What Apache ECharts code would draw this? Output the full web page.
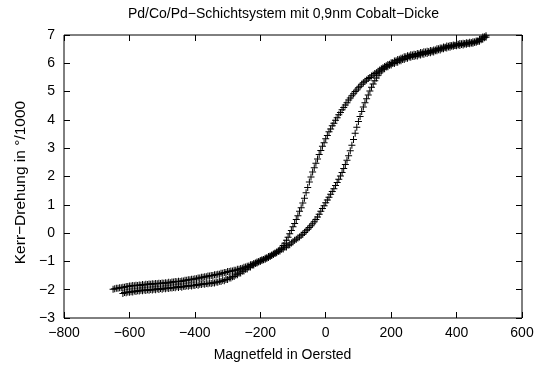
<!DOCTYPE html>
<html>
<head>
<meta charset="utf-8">
<script src="https://cdn.jsdelivr.net/npm/echarts@6/dist/echarts.min.js"></script>
<style>html,body{margin:0;padding:0;background:#fff}#c{width:540px;height:365px}</style>
</head>
<body>
<div id="c"></div>
<script>
// Descending field branch (Oe) and Kerr rotation (°/1000)
var fieldDown = [490,485,480,475,470,465,460,455,450,445,440,435,430,425,420,415,410,405,400,395,
  390,385,380,375,370,365,360,355,350,345,340,335,330,325,320,315,310,305,300,295,
  290,285,280,275,270,265,260,255,250,245,240,235,230,225,220,215,210,205,200,195,
  190,185,180,175,170,165,160,155,150,145,140,135,130,125,120,115,110,105,100,95,
  90,85,80,75,70,65,60,55,50,45,40,35,30,25,20,15,10,5,0,-5,
  -10,-15,-20,-25,-30,-35,-40,-45,-50,-55,-60,-65,-70,-75,-80,-85,-90,-95,-100,-105,
  -110,-115,-120,-125,-130,-135,-140,-145,-150,-155,-160,-165,-170,-175,-180,-185,-190,-195,-200,-205,
  -210,-215,-220,-225,-230,-235,-240,-245,-250,-255,-260,-265,-270,-275,-280,-285,-290,-295,-300,-305,
  -310,-315,-320,-325,-330,-335,-340,-345,-350,-355,-360,-365,-370,-375,-380,-385,-390,-395,-400,-405,
  -410,-415,-420,-425,-430,-435,-440,-445,-450,-455,-460,-465,-470,-475,-480,-485,-490,-495,-500,-505,
  -510,-515,-520,-525,-530,-535,-540,-545,-550,-555,-560,-565,-570,-575,-580,-585,-590,-595,-600,-605,
  -610,-615,-620,-625,-630,-635,-640,-645,-650];
var kerrDown = [6.97,6.94,6.93,6.87,6.85,6.79,6.79,6.75,6.76,6.73,6.74,6.72,6.73,6.70,6.71,6.69,6.70,6.67,6.68,6.64,
  6.65,6.62,6.63,6.60,6.61,6.57,6.58,6.54,6.54,6.51,6.51,6.47,6.47,6.44,6.45,6.42,6.43,6.40,6.41,6.37,
  6.38,6.34,6.35,6.31,6.32,6.29,6.30,6.26,6.27,6.23,6.23,6.19,6.18,6.14,6.13,6.09,6.08,6.03,6.02,5.97,
  5.96,5.91,5.89,5.84,5.81,5.76,5.72,5.67,5.64,5.59,5.55,5.50,5.46,5.41,5.37,5.31,5.26,5.19,5.14,5.06,
  5.00,4.92,4.85,4.77,4.70,4.61,4.53,4.44,4.36,4.26,4.18,4.08,3.99,3.88,3.79,3.68,3.58,3.45,3.33,3.19,
  3.07,2.92,2.78,2.62,2.47,2.31,2.16,1.98,1.81,1.61,1.43,1.23,1.06,0.90,0.77,0.61,0.48,0.34,0.22,0.09,
  -0.02,-0.15,-0.25,-0.36,-0.44,-0.53,-0.59,-0.64,-0.67,-0.72,-0.74,-0.79,-0.82,-0.86,-0.88,-0.92,-0.93,-0.96,-0.97,-1.01,
  -1.02,-1.06,-1.07,-1.11,-1.12,-1.16,-1.17,-1.20,-1.21,-1.24,-1.25,-1.28,-1.28,-1.31,-1.31,-1.34,-1.34,-1.36,-1.36,-1.39,
  -1.39,-1.42,-1.42,-1.45,-1.45,-1.47,-1.47,-1.50,-1.50,-1.52,-1.52,-1.54,-1.54,-1.56,-1.56,-1.59,-1.59,-1.61,-1.61,-1.63,
  -1.63,-1.65,-1.65,-1.67,-1.67,-1.69,-1.69,-1.71,-1.70,-1.72,-1.71,-1.73,-1.73,-1.75,-1.74,-1.76,-1.75,-1.77,-1.76,-1.78,
  -1.77,-1.79,-1.78,-1.80,-1.79,-1.81,-1.80,-1.82,-1.81,-1.83,-1.82,-1.84,-1.83,-1.85,-1.84,-1.86,-1.85,-1.87,-1.87,-1.89,
  -1.89,-1.91,-1.91,-1.93,-1.93,-1.95,-1.95,-1.97,-1.98];

// Ascending field branch
var fieldUp = [-620,-615,-610,-605,-600,-595,-590,-585,-580,-575,-570,-565,-560,-555,-550,-545,-540,-535,-530,-525,
  -520,-515,-510,-505,-500,-495,-490,-485,-480,-475,-470,-465,-460,-455,-450,-445,-440,-435,-430,-425,
  -420,-415,-410,-405,-400,-395,-390,-385,-380,-375,-370,-365,-360,-355,-350,-345,-340,-335,-330,-325,
  -320,-315,-310,-305,-300,-295,-290,-285,-280,-275,-270,-265,-260,-255,-250,-245,-240,-235,-230,-225,
  -220,-215,-210,-205,-200,-195,-190,-185,-180,-175,-170,-165,-160,-155,-150,-145,-140,-135,-130,-125,
  -120,-115,-110,-105,-100,-95,-90,-85,-80,-75,-70,-65,-60,-55,-50,-45,-40,-35,-30,-25,
  -20,-15,-10,-5,0,5,10,15,20,25,30,35,40,45,50,55,60,65,70,75,
  80,85,90,95,100,105,110,115,120,125,130,135,140,145,150,155,160,165,170,175,
  180,185,190,195,200,205,210,215,220,225,230,235,240,245,250,255,260,265,270,275,
  280,285,290,295,300,305,310,315,320,325,330,335,340,345,350,355,360,365,370,375,
  380,385,390,395,400,405,410,415,420,425,430,435,440,445,450,455,460,465,470,475,
  480,485,490];
var kerrUp = [-2.13,-2.10,-2.11,-2.08,-2.09,-2.07,-2.08,-2.05,-2.06,-2.04,-2.05,-2.02,-2.04,-2.01,-2.03,-2.00,-2.02,-1.99,-2.01,-1.98,
  -2.00,-1.97,-1.99,-1.96,-1.98,-1.95,-1.97,-1.94,-1.96,-1.93,-1.94,-1.92,-1.93,-1.90,-1.92,-1.89,-1.91,-1.88,-1.89,-1.86,
  -1.88,-1.85,-1.87,-1.84,-1.85,-1.82,-1.84,-1.81,-1.82,-1.79,-1.81,-1.78,-1.79,-1.76,-1.78,-1.75,-1.76,-1.73,-1.74,-1.70,
  -1.71,-1.67,-1.68,-1.64,-1.64,-1.59,-1.59,-1.54,-1.53,-1.48,-1.47,-1.42,-1.41,-1.35,-1.34,-1.28,-1.27,-1.21,-1.20,-1.14,
  -1.13,-1.07,-1.06,-1.01,-1.00,-0.95,-0.94,-0.89,-0.88,-0.83,-0.82,-0.77,-0.76,-0.70,-0.69,-0.64,-0.63,-0.57,-0.56,-0.50,
  -0.49,-0.43,-0.41,-0.35,-0.31,-0.25,-0.22,-0.17,-0.14,-0.08,-0.04,0.02,0.08,0.14,0.20,0.26,0.33,0.40,0.48,0.57,
  0.67,0.77,0.87,0.97,1.07,1.17,1.27,1.37,1.47,1.57,1.68,1.79,1.90,2.02,2.14,2.28,2.42,2.57,2.73,2.91,
  3.10,3.31,3.53,3.74,3.94,4.12,4.30,4.46,4.61,4.75,4.88,5.02,5.15,5.27,5.38,5.48,5.58,5.66,5.73,5.79,
  5.81,5.87,5.88,5.93,5.94,5.99,5.99,6.04,6.04,6.09,6.09,6.13,6.13,6.18,6.18,6.22,6.21,6.25,6.24,6.27,
  6.26,6.30,6.29,6.33,6.32,6.36,6.35,6.38,6.37,6.41,6.40,6.44,6.44,6.48,6.47,6.51,6.51,6.55,6.54,6.58,
  6.57,6.61,6.60,6.63,6.62,6.65,6.63,6.66,6.65,6.68,6.67,6.70,6.69,6.72,6.71,6.74,6.74,6.78,6.78,6.83,
  6.85,6.90,6.92];

var xTicks = [-800,-600,-400,-200,0,200,400,600];
var yTicks = [-3,-2,-1,0,1,2,3,4,5,6,7];

var titleText = 'Pd/Co/Pd\u2212Schichtsystem mit 0,9nm Cobalt\u2212Dicke';
var xName = 'Magnetfeld in Oersted';
var yName = 'Kerr\u2212Drehung in \u00b0/1000';

function pairs(xs, ys){ var o=[]; for (var i=0;i<xs.length;i++) o.push([xs[i], ys[i]]); return o; }
function fmt(v){ return String(v).replace('-', '\u2212'); }

var FONT = '"Liberation Sans", Arial, Helvetica, sans-serif';
var plus = 'path://M3,0H4V3H7V4H4V7H3V4H0V3H3Z';

var chart = echarts.init(document.getElementById('c'), null, {renderer:'canvas'});
var tickStyle = {show:true, inside:true, length:6, lineStyle:{color:'#000', width:1}};
var labelStyle = {color:'#000', fontSize:14, fontFamily:FONT};
var noLine = {show:false, onZero:false};
chart.setOption({
  animation:false,
  backgroundColor:'#fff',
  grid:{left:64, right:18, top:35, bottom:47, show:true, borderColor:'#000', borderWidth:1, backgroundColor:'transparent'},
  xAxis:[
    {type:'value', min:xTicks[0], max:xTicks[xTicks.length-1], interval:200, position:'bottom',
     axisLine:noLine, axisTick:tickStyle, splitLine:{show:false},
     axisLabel:Object.assign({margin:8, formatter:fmt}, labelStyle)},
    {type:'value', min:xTicks[0], max:xTicks[xTicks.length-1], interval:200, position:'top',
     axisLine:noLine, axisTick:tickStyle, splitLine:{show:false}, axisLabel:{show:false}}
  ],
  yAxis:[
    {type:'value', min:yTicks[0], max:yTicks[yTicks.length-1], interval:1, position:'left',
     axisLine:noLine, axisTick:tickStyle, splitLine:{show:false},
     axisLabel:Object.assign({margin:9, formatter:fmt}, labelStyle)},
    {type:'value', min:yTicks[0], max:yTicks[yTicks.length-1], interval:1, position:'right',
     axisLine:noLine, axisTick:tickStyle, splitLine:{show:false}, axisLabel:{show:false}}
  ],
  graphic:[
    {type:'text', x:283.5, y:13.7, style:{text:titleText, font:'14px '+FONT, fill:'#000', textAlign:'center', textVerticalAlign:'middle'}},
    {type:'text', x:282.5, y:355.3, style:{text:xName, font:'14px '+FONT, fill:'#000', textAlign:'center', textVerticalAlign:'middle'}},
    {type:'text', x:21, y:182.5, rotation:Math.PI/2, style:{text:yName, font:'15.5px '+FONT, fill:'#000', textAlign:'center', textVerticalAlign:'middle'}}
  ],
  series:[
    {type:'scatter', xAxisIndex:0, yAxisIndex:0, data:pairs(fieldDown, kerrDown), symbol:plus, symbolSize:7,
     itemStyle:{color:'#000', opacity:1}, large:false, silent:true},
    {type:'scatter', xAxisIndex:0, yAxisIndex:0, data:pairs(fieldUp, kerrUp), symbol:plus, symbolSize:7,
     itemStyle:{color:'#000', opacity:1}, large:false, silent:true}
  ]
});
</script>
</body>
</html>
